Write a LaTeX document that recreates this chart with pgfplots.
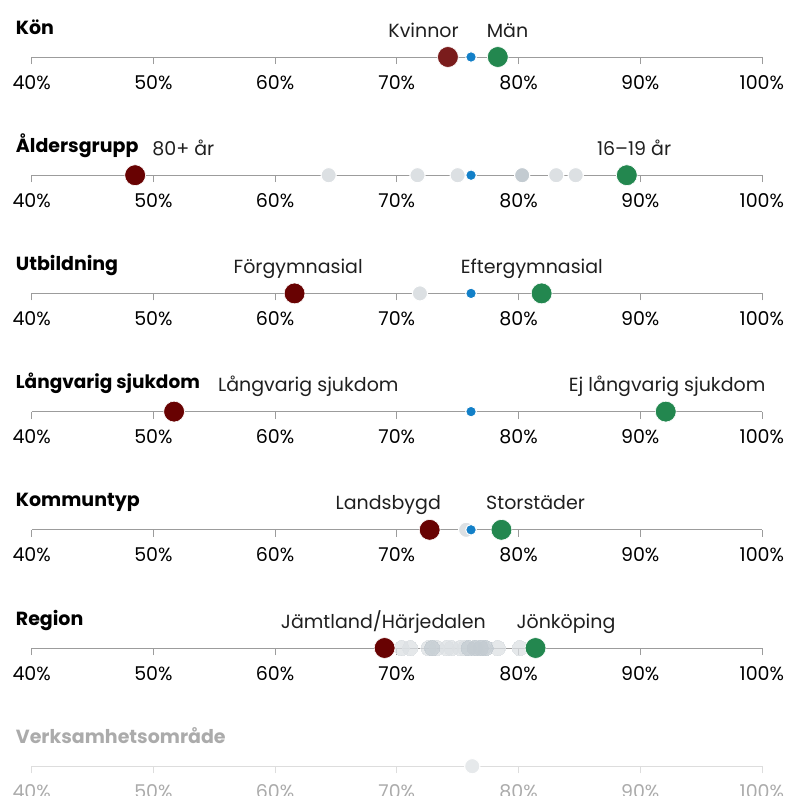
\documentclass[border=0pt]{standalone}
\usepackage{pgfplots}
\pgfplotsset{compat=1.18}
\usepackage{fontspec}
\setmainfont{Poppins}

\definecolor{dred}{HTML}{680202}
\definecolor{kred}{HTML}{7A1C1C}
\definecolor{dgreen}{HTML}{23874F}
\definecolor{mblue}{HTML}{1380C8}
\definecolor{lgrey}{HTML}{DCE0E3}
\definecolor{mgrey}{HTML}{C3CBD1}
\definecolor{axgrey}{HTML}{9C9C9C}
\definecolor{fadetext}{HTML}{ABABAB}
\definecolor{fadeline}{HTML}{DDDDDD}

\pgfplotsset{
  strip/.style={
    scale only axis, width=730.2pt, height=20pt,
    xmin=40, xmax=100, ymin=0, ymax=1,
    axis x line*=bottom, axis y line=none,
    axis line style={axgrey, line width=0.8pt},
    xtick={40,50,60,70,80,90,100},
    xticklabels={40\%,50\%,60\%,70\%,80\%,90\%,100\%},
    major tick length=7pt, tick align=outside,
    tick style={axgrey, line width=0.8pt},
    xticklabel style={font=\fontsize{19}{19}\selectfont, anchor=base, yshift=-25pt, inner sep=0pt},
    clip=false, anchor=south west,
  },
  big/.style={only marks, mark=*, mark size=10.4pt, mark options={draw=white, line width=0.6pt, fill=#1}},
  grey/.style={only marks, mark=*, mark size=7.6pt, mark options={draw=white, line width=1pt, fill=#1}},
  rgrey/.style={only marks, mark=*, mark size=7.6pt, color=#1, mark options={draw=#1, line width=0pt, fill=#1, opacity=0.75}},
  avg/.style={only marks, mark=*, mark size=5.3pt, mark options={draw=white, line width=1pt, fill=mblue}},
}
\tikzset{
  ttl/.style={anchor=base west, xshift=-16pt, yshift=23pt, inner sep=0pt, font=\bfseries\fontsize{19}{19}\selectfont},
  lab/.style={anchor=base, yshift=20pt, inner sep=0pt, font=\fontsize{19}{19}\selectfont, text=black!88},
}

\begin{document}
\begin{tikzpicture}
\useasboundingbox (0,0) rectangle (791pt,-796pt);

% Kön
\begin{axis}[strip, at={(31.7pt,-57pt)}]
\addplot[avg] coordinates {(76.1,0)};
\addplot[big=kred] coordinates {(74.2,0)};
\addplot[big=dgreen] coordinates {(78.3,0)};
\node[ttl] at (axis cs:40,0) {Kön};
\node[lab] at (axis cs:72.2,0) {Kvinnor};
\node[lab] at (axis cs:79.1,0) {Män};
\end{axis}

% Åldersgrupp
\begin{axis}[strip, at={(31.7pt,-175.2pt)}]
\addplot[grey=lgrey] coordinates {(64.4,0) (71.7,0) (75.0,0) (83.1,0) (84.7,0)};
\addplot[grey=mgrey] coordinates {(80.3,0)};
\addplot[avg] coordinates {(76.1,0)};
\addplot[big=dred] coordinates {(48.5,0)};
\addplot[big=dgreen] coordinates {(88.9,0)};
\node[ttl] at (axis cs:40,0) {Åldersgrupp};
\node[lab, anchor=base west] at (axis cs:49.9,0) {80+ år};
\node[lab] at (axis cs:89.5,0) {16–19 år};
\end{axis}

% Utbildning
\begin{axis}[strip, at={(31.7pt,-293.4pt)}]
\addplot[grey=lgrey] coordinates {(71.9,0)};
\addplot[avg] coordinates {(76.1,0)};
\addplot[big=dred] coordinates {(61.6,0)};
\addplot[big=dgreen] coordinates {(81.9,0)};
\node[ttl] at (axis cs:40,0) {Utbildning};
\node[lab] at (axis cs:61.9,0) {Förgymnasial};
\node[lab] at (axis cs:81.1,0) {Eftergymnasial};
\end{axis}

% Långvarig sjukdom
\begin{axis}[strip, at={(31.7pt,-411.6pt)}]
\addplot[avg] coordinates {(76.1,0)};
\addplot[big=dred] coordinates {(51.7,0)};
\addplot[big=dgreen] coordinates {(92.1,0)};
\node[ttl, font=\bfseries\fontsize{18.5}{19}\selectfont] at (axis cs:40,0) {Långvarig sjukdom};
\node[lab, anchor=base west] at (axis cs:55.3,0) {Långvarig sjukdom};
\node[lab, anchor=base east] at (axis cs:100.3,0) {Ej långvarig sjukdom};
\end{axis}

% Kommuntyp
\begin{axis}[strip, at={(31.7pt,-529.8pt)}]
\addplot[grey=lgrey] coordinates {(75.7,0)};
\addplot[avg] coordinates {(76.1,0)};
\addplot[big=dred] coordinates {(72.7,0)};
\addplot[big=dgreen] coordinates {(78.6,0)};
\node[ttl] at (axis cs:40,0) {Kommuntyp};
\node[lab] at (axis cs:69.3,0) {Landsbygd};
\node[lab] at (axis cs:81.4,0) {Storstäder};
\end{axis}

% Region
\begin{axis}[strip, at={(31.7pt,-648pt)}]
\addplot[rgrey=lgrey] coordinates {
  (70.4,0) (71.1,0) (72.6,0) (73.3,0) (74.1,0) (74.5,0) (75.2,0) (75.6,0)
  (76.6,0) (77.1,0) (78.3,0) (80.1,0)};
\addplot[rgrey=mgrey] coordinates {
  (72.9,0) (75.9,0) (76.4,0) (76.9,0) (77.3,0)};
\addplot[big=dred] coordinates {(69.0,0)};
\addplot[big=dgreen] coordinates {(81.4,0)};
\node[ttl] at (axis cs:40,0) {Region};
\node[lab] at (axis cs:68.9,0) {Jämtland/Härjedalen};
\node[lab] at (axis cs:83.9,0) {Jönköping};
\end{axis}

% Verksamhetsområde (nedtonad)
\begin{axis}[strip, at={(31.7pt,-766.2pt)},
  axis line style={fadeline, line width=0.8pt}, tick style={fadeline, line width=0.8pt},
  xticklabel style={text=fadetext}]
\addplot[grey=lgrey!70] coordinates {(76.2,0)};
\node[ttl, text=fadetext] at (axis cs:40,0) {Verksamhetsområde};
\end{axis}
\end{tikzpicture}
\end{document}
